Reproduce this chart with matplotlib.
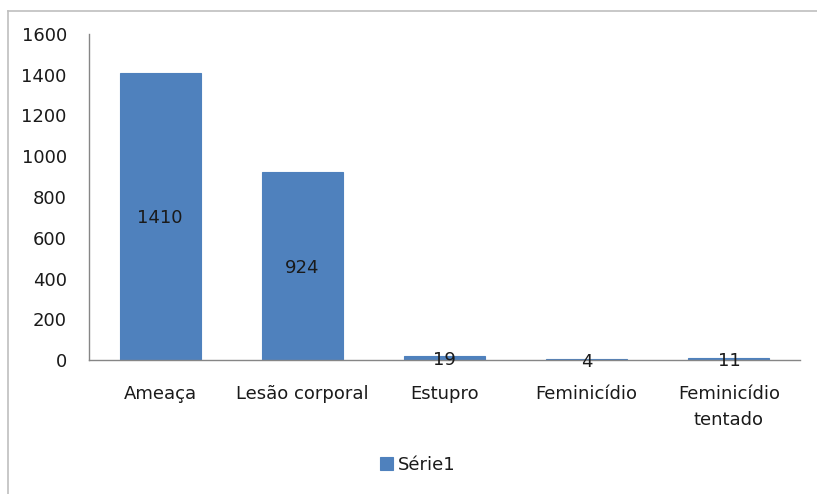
import matplotlib
matplotlib.use("Agg")
import matplotlib.pyplot as plt
from matplotlib.lines import Line2D

categories = ["Ameaça", "Lesão corporal", "Estupro", "Feminicídio", "Feminicídio\ntentado"]
values = [1410, 924, 19, 4, 11]
yticks = [0, 200, 400, 600, 800, 1000, 1200, 1400, 1600]
series_name = "Série1"

bar_color = "#4F81BD"
text_color = "#1A1A1A"
axis_color = "#868686"

plt.rcParams["font.family"] = ["DejaVu Sans"]
fs = 13

fig = plt.figure(figsize=(8.17, 4.94), dpi=100)
ax = fig.add_axes([89 / 817, 1 - 360 / 494, (800 - 89) / 817, (360 - 34) / 494])

x = list(range(len(categories)))
bars = ax.bar(x, values, width=0.57, color=bar_color, edgecolor=bar_color,
              linewidth=0.8, label=series_name, zorder=2)

for rect, v in zip(bars, values):
    ax.text(rect.get_x() + rect.get_width() / 2, v / 2, str(v),
            ha="center", va="center_baseline", fontsize=fs, color=text_color, zorder=3)

ax.set_xlim(-0.5, len(categories) - 0.5)
ax.set_ylim(0, 1600)
ax.set_yticks(yticks)
ax.set_yticklabels([str(t) for t in yticks])
ax.set_xticks(x)
ax.set_xticklabels(categories, linespacing=1.55)

ax.tick_params(axis="y", length=0, pad=16, labelsize=fs, labelcolor=text_color)
ax.tick_params(axis="x", length=0, pad=18, labelsize=fs, labelcolor=text_color)

for side in ["top", "right"]:
    ax.spines[side].set_visible(False)
for side in ["left", "bottom"]:
    ax.spines[side].set_color(axis_color)
    ax.spines[side].set_linewidth(1.0)

fig.legend(handles=[bars], labels=[series_name], loc="center",
           bbox_to_anchor=(418 / 817, 1 - 465 / 494), frameon=False,
           fontsize=fs, handlelength=0.7, handleheight=0.7, handletextpad=0.3,
           labelcolor=text_color)

# outer chart frame (top and left edges visible)
fig.add_artist(Line2D([7.5 / 817, 1.0], [1 - 11 / 494, 1 - 11 / 494],
                      transform=fig.transFigure, color="#BFBFBF", lw=1.2))
fig.add_artist(Line2D([7.5 / 817, 7.5 / 817], [0.0, 1 - 11 / 494],
                      transform=fig.transFigure, color="#BFBFBF", lw=1.2))

fig.savefig("out.png", dpi=100, facecolor="white")
